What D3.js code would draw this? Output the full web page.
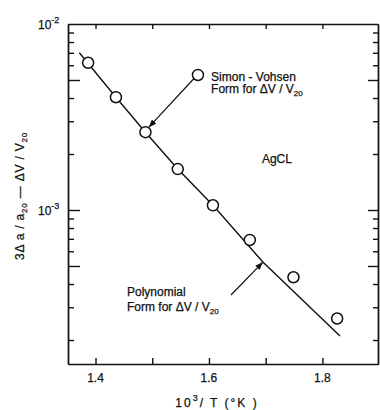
<!DOCTYPE html>
<html>
  <head>
    <script src="https://cdn.jsdelivr.net/npm/d3@7/dist/d3.min.js"></script>
    <style>
      body { margin: 0; background: #fff; }
      text { font-family: "Liberation Sans", Arial, sans-serif; fill: #111; stroke: #111; stroke-width: 0.25; }
    </style>
  </head>
  <body>
    <svg width="380" height="410" id="mainsvg"></svg>
    <script>
        // values
        const circleX = [1.387, 1.436, 1.488, 1.545, 1.607, 1.672, 1.749, 1.826];
        const circleY = [6.19e-3, 4.04e-3, 2.62e-3, 1.66e-3, 1.06e-3, 6.9e-4, 4.35e-4, 2.61e-4];
        const polyX = [1.3715, 1.436, 1.488, 1.545, 1.607, 1.695, 1.831];
        const polyY = [7.0e-3, 4.04e-3, 2.62e-3, 1.66e-3, 1.06e-3, 5.25e-4, 2.1e-4];
        const xTicks = [1.4, 1.5, 1.6, 1.7, 1.8];
        const xTickLabels = ['1.4', '', '1.6', '', '1.8'];
        const yMinorTicks = [2e-4, 3e-4, 4e-4, 6e-4, 7e-4, 8e-4, 9e-4, 2e-3, 3e-3, 4e-3, 6e-3, 7e-3, 8e-3, 9e-3];
        const yMajorTicks = [5e-4, 1e-3, 5e-3];
        const yLabelValues = [1e-2, 1e-3];
        const yLabelExps = ['-2', '-3'];

        // @canvas
        const svg = d3.select('#mainsvg');
        const width = +svg.attr('width');
        const height = +svg.attr('height');
        const margin = {top: 24, right: 2, bottom: 46, left: 68};
        const x0 = margin.left, x1 = width - margin.right;
        const y0 = height - margin.bottom, y1 = margin.top;

        const x = d3.scaleLinear().domain([1.3515, 1.898]).range([x0, x1]);
        const y = d3.scaleLog().domain([1.486e-4, 1e-2]).range([y0, y1]);

        const g = svg.append('g').attr('id', 'maingroup');

        // arrow head
        svg.append('defs').append('marker')
            .attr('id', 'head')
            .attr('markerUnits', 'userSpaceOnUse')
            .attr('markerWidth', 8).attr('markerHeight', 6)
            .attr('refX', 8).attr('refY', 3)
            .attr('orient', 'auto')
            .append('path').attr('d', 'M0,0 L8,3 L0,6 z').attr('fill', '#111');

        // @axes, ticks point inward
        const noLabel = '';
        const styleAxis = sel => {
            sel.selectAll('path, line').attr('stroke', '#111').attr('stroke-width', 1.4);
            sel.selectAll('text').remove();
        };
        g.append('g').attr('transform', `translate(0,${y0})`)
            .call(d3.axisBottom(x).tickValues(xTicks).tickSize(-6).tickSizeOuter(0).tickFormat(noLabel))
            .call(styleAxis);
        g.append('g').attr('transform', `translate(0,${y1})`)
            .call(d3.axisTop(x).tickValues(xTicks).tickSize(-5).tickSizeOuter(0).tickFormat(noLabel))
            .call(styleAxis);
        g.append('g').attr('transform', `translate(${x0},0)`)
            .call(d3.axisLeft(y).tickValues(yMinorTicks).tickSize(-6).tickSizeOuter(0).tickFormat(noLabel))
            .call(styleAxis);
        g.append('g').attr('transform', `translate(${x0},0)`)
            .call(d3.axisLeft(y).tickValues(yMajorTicks).tickSize(-12).tickSizeOuter(0).tickFormat(noLabel))
            .call(styleAxis);
        g.append('g').attr('transform', `translate(${x1},0)`)
            .call(d3.axisRight(y).tickValues(yMinorTicks).tickSize(-5).tickSizeOuter(0).tickFormat(noLabel))
            .call(styleAxis);
        g.append('g').attr('transform', `translate(${x1},0)`)
            .call(d3.axisRight(y).tickValues(yMajorTicks).tickSize(-10).tickSizeOuter(0).tickFormat(noLabel))
            .call(styleAxis);

        // x tick labels
        g.selectAll('.xlab').data(xTicks).enter().append('text')
            .attr('class', 'xlab')
            .attr('x', d => x(d)).attr('y', y0 + 18)
            .attr('text-anchor', 'middle')
            .attr('font-size', 12)
            .text((d, i) => xTickLabels[i]);

        // y tick labels (powers of ten)
        const ylab = g.selectAll('.ylab').data(yLabelValues).enter().append('text')
            .attr('class', 'ylab')
            .attr('x', 38).attr('y', d => y(d) + 5)
            .attr('font-size', 12);
        ylab.append('tspan').text('10');
        ylab.append('tspan').attr('font-size', 9).attr('dy', -6).text((d, i) => yLabelExps[i]);

        // axis titles
        const xt = g.append('text')
            .attr('x', 217).attr('y', 407)
            .attr('text-anchor', 'middle')
            .attr('font-size', 12)
            .attr('letter-spacing', 2);
        xt.append('tspan').text('10');
        xt.append('tspan').attr('font-size', 9).attr('dy', -6).text('3');
        xt.append('tspan').attr('dy', 6).text('/ T (°K )');

        const yt = g.append('text')
            .attr('transform', 'translate(24,196) rotate(-90)')
            .attr('text-anchor', 'middle')
            .attr('font-size', 12)
            .attr('letter-spacing', 0.8);
        yt.append('tspan').text('3Δ a / a');
        yt.append('tspan').attr('font-size', 8).attr('dy', 3).text('20');
        yt.append('tspan').attr('dy', -3).text('  —   ΔV / V');
        yt.append('tspan').attr('font-size', 8).attr('dy', 3).text('20');

        // @polynomial form line
        const line = d3.line().x(d => x(d[0])).y(d => y(d[1]));
        g.append('path')
            .datum(polyX.map((v, i) => [v, polyY[i]]))
            .attr('d', line)
            .attr('fill', 'none')
            .attr('stroke', '#111')
            .attr('stroke-width', 1.4);

        // @Simon-Vohsen circles
        g.selectAll('.pt').data(circleX).enter().append('circle')
            .attr('class', 'pt')
            .attr('cx', d => x(d))
            .attr('cy', (d, i) => y(circleY[i]))
            .attr('r', 5.5)
            .attr('fill', '#fff')
            .attr('stroke', '#111')
            .attr('stroke-width', 1.5);

        // @annotations
        g.append('circle')
            .attr('cx', x(1.5806)).attr('cy', y(5.32e-3)).attr('r', 5.5)
            .attr('fill', '#fff').attr('stroke', '#111').attr('stroke-width', 1.5);
        g.append('line')
            .attr('x1', x(1.574)).attr('y1', y(5.11e-3))
            .attr('x2', x(1.4937)).attr('y2', y(2.78e-3))
            .attr('stroke', '#111').attr('stroke-width', 1.2)
            .attr('marker-end', 'url(#head)');
        g.append('line')
            .attr('x1', x(1.6388)).attr('y1', y(3.49e-4))
            .attr('x2', x(1.6952)).attr('y2', y(5.25e-4))
            .attr('stroke', '#111').attr('stroke-width', 1.2)
            .attr('marker-end', 'url(#head)');

        const addNote = (xv, yv, dy) => g.append('text')
            .attr('x', x(xv)).attr('y', y(yv) + (dy || 0))
            .attr('font-size', 12);
        const sub20 = t => {
            t.append('tspan').text('Form  for  ΔV / V');
            t.append('tspan').attr('font-size', 8).attr('dy', 3).text('20');
        };

        addNote(1.6038, 4.94e-3).text('Simon - Vohsen');
        sub20(addNote(1.6038, 4.94e-3, 12.5));

        addNote(1.6934, 1.79e-3).text('AgCL');

        addNote(1.4555, 3.45e-4).text('Polynomial');
        sub20(addNote(1.4555, 3.45e-4, 15));
    </script>
  </body>
</html>
